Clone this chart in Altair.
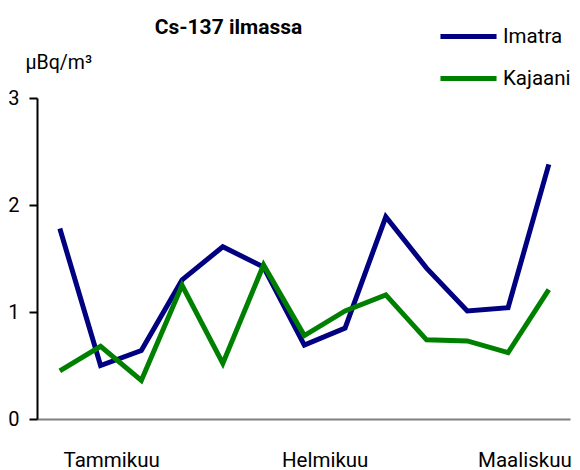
import altair as alt
import pandas as pd

weeks = list(range(13))
imatra = [1.78, 0.50, 0.64, 1.30, 1.61, 1.42, 0.69, 0.85, 1.89, 1.41, 1.01, 1.04, 2.38]
kajaani = [0.45, 0.68, 0.36, 1.25, 0.52, 1.44, 0.78, 1.01, 1.16, 0.74, 0.73, 0.62, 1.21]
series = ["Imatra", "Kajaani"]
colors = ["#000080", "#008000"]
month_labels = ["Tammikuu", "Helmikuu", "Maaliskuu"]
month_pos = [1.26, 6.5, 11.4]
y_ticks = [0, 1, 2, 3]

rows = []
for w, a, b in zip(weeks, imatra, kajaani):
    rows.append({"week": w, "value": a, "series": series[0]})
    rows.append({"week": w, "value": b, "series": series[1]})
df = pd.DataFrame(rows)

FONT = "Roboto"

label_expr = (
    f"datum.value < 3 ? '{month_labels[0]}' : "
    f"datum.value < 9 ? '{month_labels[1]}' : '{month_labels[2]}'"
)

chart = (
    alt.Chart(df)
    .mark_line(strokeWidth=5)
    .encode(
        x=alt.X(
            "week:Q",
            scale=alt.Scale(domain=[-0.56, 12.52], nice=False, zero=False),
            axis=alt.Axis(
                values=month_pos,
                labelExpr=label_expr,
                ticks=False,
                grid=False,
                domainColor="#808080",
                domainWidth=2,
                labelFont=FONT,
                labelFontSize=20.5,
                labelColor="#000000",
                labelPadding=31,
                labelFlush=False,
                title=None,
            ),
        ),
        y=alt.Y(
            "value:Q",
            scale=alt.Scale(domain=[0, 3], nice=False),
            axis=alt.Axis(
                values=y_ticks,
                format="d",
                grid=False,
                domainColor="#000000",
                domainWidth=2,
                tickColor="#000000",
                tickWidth=2,
                tickSize=8,
                labelFont=FONT,
                labelFontSize=20,
                labelColor="#000000",
                labelPadding=10,
                title="µBq/m³",
                titleAngle=0,
                titleAlign="left",
                titleBaseline="middle",
                titleX=-12,
                titleY=-36,
                titleFont=FONT,
                titleFontSize=19.5,
                titleFontWeight="normal",
                titleColor="#000000",
            ),
        ),
        color=alt.Color(
            "series:N",
            scale=alt.Scale(domain=series, range=colors),
            legend=alt.Legend(
                title=None,
                orient="none",
                legendX=418,
                legendY=-75,
                symbolType="M-2.55,0H2.55",
                symbolSize=484,
                symbolStrokeWidth=5,
                labelFont=FONT,
                labelFontSize=20.5,
                labelColor="#000000",
                labelOffset=21,
                rowPadding=18,
            ),
        ),
    )
    .properties(
        width=533,
        height=321,
        autosize=alt.AutoSizeParams(type="none"),
        padding={"left": 29, "top": 90, "right": 2, "bottom": 51},
        title=alt.TitleParams(
            "Cs-137 ilmassa",
            font=FONT,
            fontSize=21,
            fontWeight="bold",
            color="#000000",
            anchor="start",
            dx=147,
            dy=15,
            offset=0,
        ),
    )
    .configure_view(stroke=None)
)

chart.save("out.html", embed_options={"renderer": "svg", "actions": False})
